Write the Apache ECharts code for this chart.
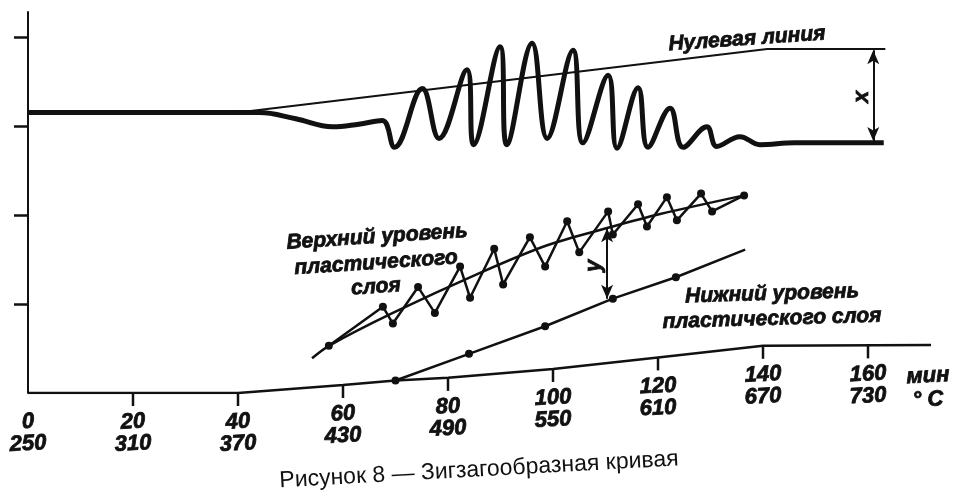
<!DOCTYPE html>
<html>
<head>
<meta charset="utf-8">
<script src="https://cdn.jsdelivr.net/npm/echarts@6/dist/echarts.min.js"></script>
<style>
  html, body { margin: 0; padding: 0; background: #fff; }
  #chart { width: 953px; height: 492px; }
</style>
</head>
<body>
<div id="chart"></div>
<script>
// ось x - время, мин (и температура, °С); ось y - условные единицы, шаг делений 10
var tickMinutes = [0, 20, 40, 60, 80, 100, 120, 140, 160];
var tickTemps = [250, 310, 370, 430, 490, 550, 610, 670, 730];
var tickBase = [0, 0, 0, 0.9, 1.7, 2.7, 4.0, 5.3, 5.35];   // высота базовой линии под делением
var yTicks = [10, 20, 30, 40];

// базовая линия (нижняя кривая)
var baseLine = [[0, 0], [40, 0], [60, 0.9], [70, 1.4], [80, 1.7], [100, 2.7], [120, 4.0], [140, 5.3], [172, 5.4]];

// зигзагообразная кривая (толстая)
var zigzagCurve = [
  [0, 31.5], [44, 31.5], [51, 30.8], [58, 29.9], [63, 30.2], [67.5, 30.6], [69.8, 27.6],
  [75.1, 34.2], [78.3, 28.6], [83.6, 36.3], [84.9, 27.9], [89.9, 38.9], [91.2, 27.9],
  [96.0, 39.3], [98.9, 28.6], [103.8, 38.5], [105.7, 28.1], [110.5, 35.7], [112.2, 27.5],
  [116.2, 34.3], [118.1, 27.6], [122.3, 32.0], [124.8, 27.6], [129.3, 29.9], [131.2, 27.7],
  [135.6, 28.8], [139.4, 27.9], [146, 28.1], [163, 28.1]
];

// нулевая линия
var zeroLine = [[40, 31.5], [140.8, 38.65], [163.3, 38.65]];

// верхний уровень пластического слоя - точки измерений
var upperPoints = [
  [57.3, 5.3], [67.6, 9.7], [69.5, 7.8], [74.3, 11.9], [77.5, 9.0], [82.3, 14.2], [84.2, 10.7],
  [88.8, 16.2], [90.5, 12.2], [95.6, 17.5], [98.5, 14.2], [102.7, 19.3], [105.0, 15.8],
  [110.5, 20.4], [111.4, 17.8], [116.2, 21.2], [117.9, 18.7], [121.7, 22.0], [123.6, 19.4],
  [128.2, 22.4], [130.3, 20.4], [136.4, 22.2]
];
// верхний уровень - сглаженная линия
var upperMean = [[54.1, 3.9], [57.3, 5.3], [69.5, 9.0], [86.1, 13.5], [98.9, 16.6], [111.4, 18.7], [120.4, 20.1], [136.4, 22.2]];

// нижний уровень пластического слоя
var lowerLevel = [[70, 1.4], [84.0, 4.4], [98.5, 7.5], [111.4, 10.6], [123.4, 13.0], [136.6, 16.1]];

// размерные стрелки x и y
var arrowX = [[161, 38.5], [161, 28.3]];
var arrowY = [[110.3, 18.5], [110.3, 10.6]];

var ink = '#111';
// жирный курсив, чуть утолщённый обводкой (как в скане)
var boldFont = {
  fontStyle: 'italic', fontWeight: 'bold', fontFamily: '"Liberation Sans", Arial, sans-serif',
  stroke: ink, lineWidth: 0.8
};

function boldText(text, x, y, size, rot) {
  return {
    type: 'text', x: x, y: y, rotation: rot || 0,
    style: Object.assign({ text: text, fontSize: size, fill: ink, align: 'center', verticalAlign: 'middle' }, boldFont)
  };
}

var chart = echarts.init(document.getElementById('chart'));
chart.setOption({
  animation: false,
  grid: { left: 28, right: 22, top: 12, bottom: 99 },
  xAxis: { type: 'value', min: 0, max: 172, show: false },
  yAxis: {
    type: 'value', min: 0, max: 42.8,
    axisLine: { show: true, lineStyle: { color: ink, width: 2 } },
    axisTick: { show: true, inside: false, length: 14, customValues: yTicks, lineStyle: { color: ink, width: 2.5 } },
    axisLabel: { show: false },
    splitLine: { show: false }
  },
  graphic: [
    boldText('Нулевая линия', 747, 39, 21, 0.07),
    boldText('Верхний уровень', 377, 237, 21, 0.065),
    boldText('пластического', 376, 263, 21, 0.065),
    boldText('слоя', 376, 287, 21, 0.065),
    boldText('Нижний уровень', 772, 294, 21, 0.03),
    boldText('пластического слоя', 772, 319, 21, 0.03),
    boldText('мин', 928, 376, 22, 0.05),
    boldText('° С', 928, 400, 22, 0.05),
    boldText('x', 862, 97, 22, Math.PI / 2),
    boldText('у', 594, 266, 22, Math.PI / 2),
    {
      type: 'text', x: 479, y: 470, rotation: 0.055,
      style: { text: 'Рисунок 8 — Зигзагообразная кривая', fontSize: 23, fontFamily: '"Liberation Sans", Arial, sans-serif',
               fill: ink, align: 'center', verticalAlign: 'middle' }
    }
  ],
  series: [
    {
      name: 'База', type: 'line', data: baseLine, symbol: 'none',
      lineStyle: { color: ink, width: 2.5 }
    },
    {
      name: 'Деления', type: 'custom', clip: false,
      data: tickMinutes.map(function (m, i) { return [m, tickBase[i], tickTemps[i]]; }),
      renderItem: function (params, api) {
        var p = api.coord([api.value(0), api.value(1)]);
        var kids = [];
        if (api.value(0) > 0) {
          kids.push({ type: 'line', shape: { x1: p[0], y1: p[1], x2: p[0], y2: p[1] + 13 },
                      style: { stroke: ink, lineWidth: 2.5 } });
        }
        kids.push(boldText(String(api.value(0)), p[0], p[1] + 29, 22, 0.05));
        kids.push(boldText(String(api.value(2)), p[0], p[1] + 51, 22, 0.05));
        return { type: 'group', children: kids };
      }
    },
    {
      name: 'Зигзагообразная кривая', type: 'line', data: zigzagCurve, symbol: 'none', smooth: 0.4,
      lineStyle: { color: ink, width: 5 }
    },
    {
      name: 'Нулевая линия', type: 'line', data: zeroLine, symbol: 'none',
      lineStyle: { color: ink, width: 2 },
      markLine: {
        silent: true, symbol: ['arrow', 'arrow'], symbolSize: [9, 14], label: { show: false },
        lineStyle: { color: ink, width: 2, type: 'solid' },
        data: [[{ coord: arrowX[0] }, { coord: arrowX[1] }], [{ coord: arrowY[0] }, { coord: arrowY[1] }]]
      }
    },
    {
      name: 'Верхний уровень', type: 'line', data: upperPoints, symbol: 'circle', symbolSize: 8,
      itemStyle: { color: ink }, lineStyle: { color: ink, width: 2.5 }
    },
    {
      name: 'Верхний уровень (среднее)', type: 'line', data: upperMean, symbol: 'none', smooth: 0.3,
      lineStyle: { color: ink, width: 2.5 }
    },
    {
      name: 'Нижний уровень', type: 'line',
      data: lowerLevel.map(function (d, i) { return i < lowerLevel.length - 1 ? d : { value: d, symbol: 'none' }; }),
      symbol: 'circle', symbolSize: 8,
      itemStyle: { color: ink }, lineStyle: { color: ink, width: 2.5 }
    }
  ]
});
</script>
</body>
</html>
